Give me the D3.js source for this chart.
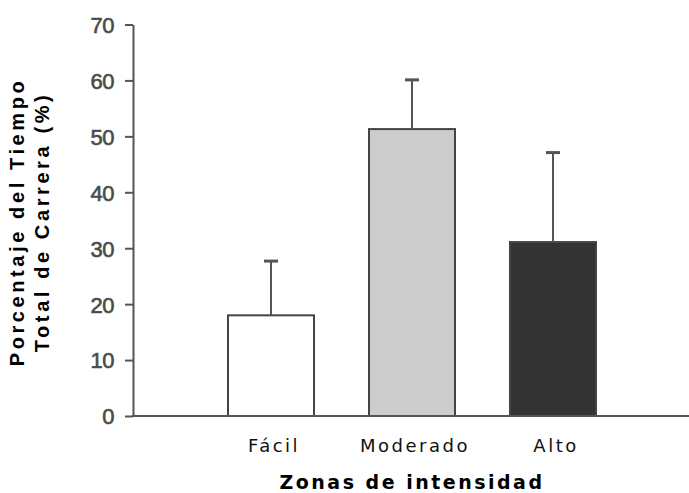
<!DOCTYPE html>
<html>
<head>
<meta charset="utf-8">
<script src="https://cdn.jsdelivr.net/npm/d3@7"></script>
<style>
  html, body { margin: 0; padding: 0; background: #fff; }
  svg { display: block; }
</style>
</head>
<body>
<svg id="chart" width="689" height="493"></svg>
<script>
const categories = ["Fácil", "Moderado", "Alto"];
const means = [18.0, 51.3, 31.1];
const errors = [9.7, 8.8, 16.0];
const fills = ["#ffffff", "#cccccc", "#333333"];
const yTicks = [0, 10, 20, 30, 40, 50, 60, 70];
const yTitleLines = ["Porcentaje del Tiempo", "Total de Carrera (%)"];
const xTitle = "Zonas de intensidad";

const svg = d3.select("#chart");
const W = 689, H = 493;
const axisX = 133, axisY = 416;

const y = d3.scaleLinear().domain([0, 70]).range([axisY, 24.5]);
const x = d3.scaleBand().domain(categories).range([200.5, 623.5]).paddingInner(0.39).paddingOuter(0.195);

// Y axis
const yAxis = d3.axisLeft(y).tickValues(yTicks).tickSize(8).tickSizeOuter(0).tickPadding(11);
const gy = svg.append("g").attr("transform", `translate(${axisX},0)`).call(yAxis);
gy.select(".domain").attr("stroke", "#555").attr("stroke-width", 2);
gy.selectAll(".tick line").attr("stroke", "#555").attr("stroke-width", 2);
gy.selectAll(".tick text")
  .attr("fill", "#4a4a4a")
  .attr("stroke", "#4a4a4a")
  .attr("stroke-width", 0.6)
  .style("font-family", "'Liberation Sans', Arial, sans-serif")
  .style("font-size", "22px")
  .style("letter-spacing", "-0.5px")
  .attr("dy", "0.36em");

// Bars
svg.selectAll("rect.bar").data(categories).join("rect")
  .attr("class", "bar")
  .attr("x", d => x(d))
  .attr("width", x.bandwidth())
  .attr("y", (d, i) => y(means[i]))
  .attr("height", (d, i) => y(0) - y(means[i]))
  .attr("fill", (d, i) => fills[i])
  .attr("stroke", "#444")
  .attr("stroke-width", 2);

// Error bars
const eb = svg.selectAll("g.err").data(categories).join("g").attr("class", "err");
eb.append("line")
  .attr("x1", d => x(d) + x.bandwidth() / 2)
  .attr("x2", d => x(d) + x.bandwidth() / 2)
  .attr("y1", (d, i) => y(means[i]))
  .attr("y2", (d, i) => y(means[i] + errors[i]))
  .attr("stroke", "#555").attr("stroke-width", 2);
eb.append("line")
  .attr("x1", d => x(d) + x.bandwidth() / 2 - 7)
  .attr("x2", d => x(d) + x.bandwidth() / 2 + 7)
  .attr("y1", (d, i) => y(means[i] + errors[i]))
  .attr("y2", (d, i) => y(means[i] + errors[i]))
  .attr("stroke", "#555").attr("stroke-width", 3);

// X axis
const xAxis = d3.axisBottom(x).tickSize(0).tickPadding(0);
const gx = svg.append("g").attr("transform", `translate(0,${axisY})`).call(xAxis);
gx.select(".domain").remove();
gx.append("line").attr("x1", axisX - 1).attr("x2", W).attr("y1", 0).attr("y2", 0)
  .attr("stroke", "#555").attr("stroke-width", 2);
gx.selectAll(".tick text")
  .attr("fill", "#111")
  .attr("y", 36)
  .attr("dy", 0)
  .attr("dx", 3)
  .style("font-family", "'DejaVu Sans', Verdana, sans-serif")
  .style("font-size", "18px")
  .style("letter-spacing", "2.5px");

// X title
svg.append("text")
  .attr("x", 412).attr("y", 489)
  .attr("text-anchor", "middle")
  .attr("fill", "#000")
  .style("font-family", "'DejaVu Sans', Verdana, sans-serif")
  .style("font-weight", "bold")
  .style("font-size", "19px")
  .style("letter-spacing", "2.5px")
  .text(xTitle);

// Y title
const yt = svg.append("text")
  .attr("transform", "translate(0,222) rotate(-90)")
  .attr("text-anchor", "middle")
  .attr("fill", "#000")
  .style("font-family", "'Liberation Sans', Arial, sans-serif")
  .style("font-weight", "bold")
  .style("font-size", "20px")
  .style("letter-spacing", "3.6px");
yt.selectAll("tspan").data(yTitleLines).join("tspan")
  .attr("x", 0)
  .attr("y", (d, i) => 24 + i * 25)
  .text(d => d);
</script>
</body>
</html>
